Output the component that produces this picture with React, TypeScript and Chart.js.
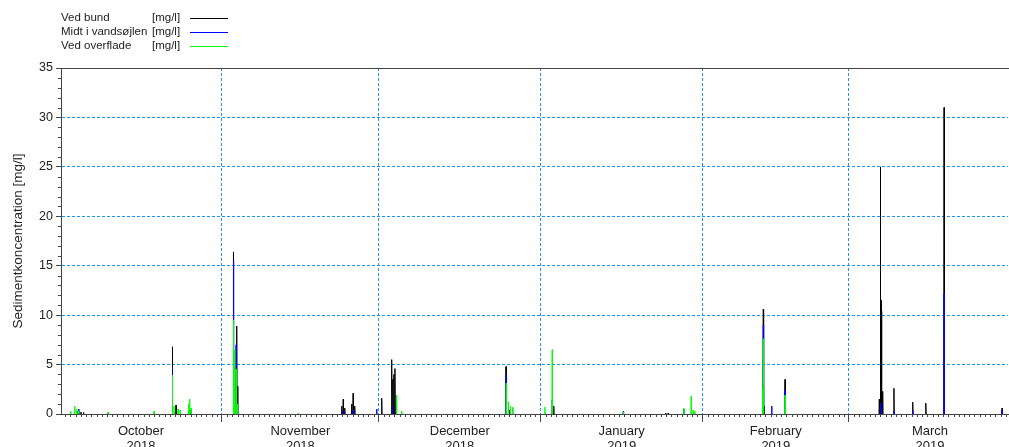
import React, { useEffect, useRef } from "react";
import { Chart, registerables } from "chart.js";

Chart.register(...registerables);

const FONT = "'Liberation Sans', Arial, sans-serif";

// x values are days since 1 October 2018
const monthStarts = [31, 61, 92, 123, 151];
const monthMids = [15.5, 46, 76.5, 107.5, 137, 166.5];
const monthNames = ["October", "November", "December", "January", "February", "March"];
const monthYears = ["2018", "2018", "2018", "2019", "2019", "2019"];
const yTicks = [0, 5, 10, 15, 20, 25, 30, 35];

const legendNames = ["Ved bund", "Midt i vandsøjlen", "Ved overflade"];
const legendUnit = "[mg/l]";
const yTitle = "Sedimentkoncentration [mg/l]";

// Ved bund (black)
const bundDays = [3.4, 4.0, 4.5, 21.5, 22.2, 33.17, 33.82, 34.0, 53.9, 54.2, 54.5, 55.8, 56.1, 56.4, 61.57, 63.48, 63.7, 63.9, 64.1, 85.36, 86.1, 94.5, 115.9, 116.4, 134.6, 134.75, 138.76, 156.8, 157.0, 157.13, 157.22, 157.45, 159.6, 163.2, 165.7, 169.2, 180.3];
const bundVals = [0.3, 0.2, 0.15, 6.8, 0.9, 16.4, 8.9, 2.8, 0.8, 1.5, 0.6, 1.0, 2.1, 0.8, 1.6, 5.5, 3.5, 4.0, 4.6, 4.8, 0.4, 0.8, 0.1, 0.1, 10.6, 0.8, 3.5, 1.5, 25.0, 11.5, 10.4, 2.3, 2.6, 1.2, 1.1, 31.0, 0.6];

// Midt i vandsøjlen (blue)
const midtDays = [3.6, 21.5, 24.9, 33.2, 33.7, 54.1, 56.1, 60.6, 63.6, 85.4, 86.6, 94.2, 107.8, 119.4, 134.6, 136.2, 138.76, 157.1, 159.6, 163.2, 169.2, 180.3];
const midtVals = [0.5, 4.8, 0.4, 15.5, 7.0, 0.3, 0.4, 0.5, 0.8, 4.0, 0.6, 1.4, 0.25, 0.5, 9.0, 0.8, 2.4, 1.1, 0.3, 0.3, 12.2, 0.4];

// Ved overflade (green)
const overDays = [2.05, 2.8, 3.2, 3.5, 9.2, 18.0, 21.5, 21.8, 22.6, 23.0, 24.6, 24.8, 25.1, 33.17, 33.4, 33.7, 33.9, 45.6, 64.4, 65.4, 85.4, 85.8, 86.2, 86.6, 92.8, 94.2, 107.8, 119.4, 120.8, 121.2, 121.5, 134.5, 134.6, 138.76];
const overVals = [0.3, 0.8, 0.5, 0.3, 0.2, 0.3, 3.9, 0.8, 0.5, 0.4, 1.0, 1.5, 0.6, 9.5, 6.5, 4.5, 1.0, 0.1, 1.9, 0.3, 3.1, 1.25, 0.8, 0.7, 0.7, 6.5, 0.2, 0.6, 1.8, 0.4, 0.3, 2.5, 7.6, 1.9];

const seriesColors = ["#000000", "#0000ff", "#00ff00"];
const GRID = "#1e90ff";
const AXIS = "#444444";

function spikes(days: number[], vals: number[]) {
  const pts: { x: number; y: number | null }[] = [];
  const h = 0.06;
  days.forEach((d, i) => {
    pts.push({ x: d - h, y: 0 }, { x: d, y: vals[i] }, { x: d + h, y: 0 }, { x: d + h, y: null });
  });
  return pts;
}

const decorPlugin = {
  id: "decor",
  afterDraw(chart: any) {
    const ctx = chart.ctx;
    const xs = chart.scales.x;
    const ys = chart.scales.y;
    const area = chart.chartArea;
    ctx.save();
    ctx.strokeStyle = AXIS;
    ctx.lineWidth = 1;
    // top frame line
    ctx.beginPath();
    ctx.moveTo(area.left, Math.round(area.top) + 0.5);
    ctx.lineTo(chart.width, Math.round(area.top) + 0.5);
    ctx.stroke();
    // daily minor ticks
    ctx.beginPath();
    for (let d = 1; d < 182; d++) {
      if (monthStarts.includes(d)) continue;
      const px = Math.round(xs.getPixelForValue(d)) + 0.5;
      if (px < area.left || px > area.right) continue;
      ctx.moveTo(px, area.bottom);
      ctx.lineTo(px, area.bottom + 3);
    }
    // y minor ticks
    for (let v = 1; v < 35; v++) {
      if (v % 5 === 0) continue;
      const py = Math.round(ys.getPixelForValue(v)) + 0.5;
      ctx.moveTo(area.left - 3, py);
      ctx.lineTo(area.left, py);
    }
    ctx.stroke();
    // legend
    ctx.font = "11.5px " + FONT;
    ctx.fillStyle = "#222";
    ctx.textBaseline = "middle";
    ctx.textAlign = "left";
    legendNames.forEach((name, i) => {
      const y = 18 + i * 14;
      ctx.fillText(name, 61, y);
      ctx.fillText(legendUnit, 152, y);
      ctx.strokeStyle = seriesColors[i];
      ctx.beginPath();
      ctx.moveTo(190, y + 0.5);
      ctx.lineTo(228, y + 0.5);
      ctx.stroke();
    });
    ctx.restore();
  },
};

export default function App() {
  const ref = useRef<HTMLCanvasElement>(null);
  useEffect(() => {
    if (!ref.current) return;
    const chart = new Chart(ref.current, {
      type: "line",
      data: {
        datasets: [
          { label: legendNames[0], data: spikes(bundDays, bundVals), borderColor: seriesColors[0], order: 3 },
          { label: legendNames[1], data: spikes(midtDays, midtVals), borderColor: seriesColors[1], order: 2 },
          { label: legendNames[2], data: spikes(overDays, overVals), borderColor: seriesColors[2], order: 1 },
        ] as any,
      },
      options: {
        responsive: false,
        animation: false,
        devicePixelRatio: 1,
        layout: { padding: { top: 68, right: 1, left: 0, bottom: 0 } },
        elements: {
          line: { borderWidth: 1, tension: 0, fill: false },
          point: { radius: 0, hoverRadius: 0 },
        },
        plugins: { legend: { display: false }, tooltip: { enabled: false }, title: { display: false } },
        scales: {
          x: {
            type: "linear",
            min: 0.19,
            max: 181.43,
            afterBuildTicks: (s: any) => {
              s.ticks = [...monthStarts, ...monthMids].sort((a, b) => a - b).map((v) => ({ value: v }));
            },
            afterFit: (s: any) => {
              s.height = 33;
            },
            ticks: {
              autoSkip: false,
              maxRotation: 0,
              padding: 2,
              color: "#222",
              font: { family: FONT, size: 13, lineHeight: 1.15 },
              callback: (v: any) => {
                const i = monthMids.indexOf(Number(v));
                return i >= 0 ? [monthNames[i], monthYears[i]] : "";
              },
            },
            grid: {
              color: (c: any) => (c.tick && monthStarts.includes(c.tick.value) ? GRID : "rgba(0,0,0,0)"),
              tickColor: (c: any) => (c.tick && monthStarts.includes(c.tick.value) ? AXIS : "rgba(0,0,0,0)"),
              tickBorderDash: [],
              tickLength: 8,
              lineWidth: 1,
            },
            border: { display: true, color: AXIS, width: 1, dash: [3, 2] },
          } as any,
          y: {
            min: 0,
            max: 35,
            afterBuildTicks: (s: any) => {
              s.ticks = yTicks.map((v) => ({ value: v }));
            },
            afterFit: (s: any) => {
              s.width = 61;
            },
            ticks: {
              padding: 3,
              color: "#222",
              font: { family: FONT, size: 12.5 },
            },
            grid: {
              color: (c: any) => (c.tick && c.tick.value > 0 && c.tick.value < 35 ? GRID : "rgba(0,0,0,0)"),
              tickColor: AXIS,
              tickBorderDash: [],
              tickLength: 5,
              lineWidth: 1,
            },
            border: { display: true, color: AXIS, width: 1, dash: [3, 2] },
            title: {
              display: true,
              text: yTitle,
              color: "#222",
              font: { family: FONT, size: 13.5 },
              padding: { top: 10, bottom: 0 },
            },
          } as any,
        },
      },
      plugins: [decorPlugin],
    });
    return () => chart.destroy();
  }, []);
  return (
    <div style={{ position: "fixed", left: 0, top: 0, width: 1009, height: 447, background: "#fff" }}>
      <canvas ref={ref} width={1009} height={447} style={{ display: "block" }} />
    </div>
  );
}
